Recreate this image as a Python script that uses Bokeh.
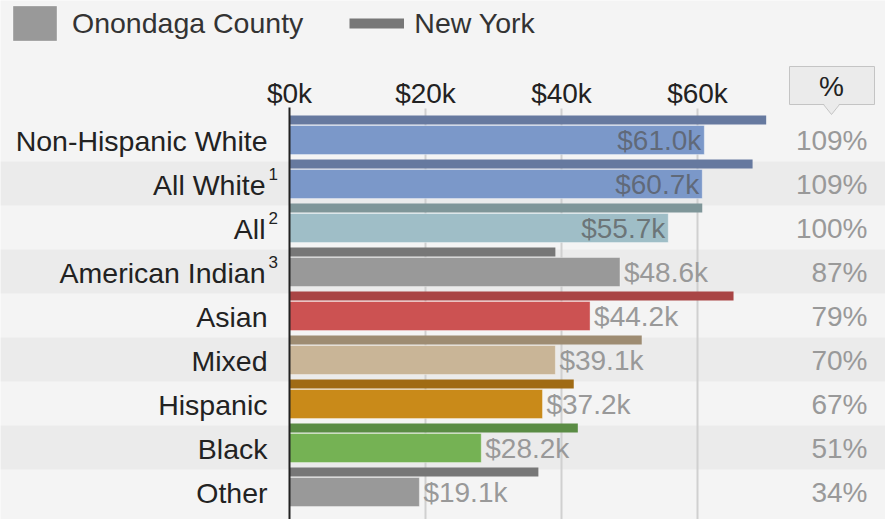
from bokeh.plotting import figure
from bokeh.models import Range1d, Legend, LegendItem
from bokeh.embed import file_html
from bokeh.resources import INLINE
from bokeh.core.properties import value

# ---------------- data ----------------
groups = ["Non-Hispanic White", "All White", "All", "American Indian", "Asian",
          "Mixed", "Hispanic", "Black", "Other"]
notes = ["", "1", "2", "3", "", "", "", "", ""]
county = [61.0, 60.7, 55.7, 48.6, 44.2, 39.1, 37.2, 28.2, 19.1]      # Onondaga County, $k
new_york = [70.1, 68.1, 60.7, 39.1, 65.3, 51.8, 41.8, 42.4, 36.6]    # New York, $k
percent = ["109%", "109%", "100%", "87%", "79%", "70%", "67%", "51%", "34%"]
ticks = [0, 20, 40, 60]
tick_labels = ["$0k", "$20k", "$40k", "$60k"]

county_colors = ["#7b98c9", "#7b98c9", "#9fbec7", "#999999", "#cc5252",
                 "#c9b597", "#c98a19", "#75b254", "#999999"]
ny_colors = ["#66799f", "#66799f", "#7f9699", "#777777", "#a94545",
             "#9e8c72", "#a06b14", "#5a8c44", "#777777"]

# ---------------- layout ----------------
W, H = 885, 519
X0_PX, PX_PER_K = 289, 6.8
ROW0, ROW_H = 117, 44
FONT = value("Liberation Sans")

p = figure(width=W, height=H,
           x_range=Range1d(-X0_PX / PX_PER_K, (W - X0_PX) / PX_PER_K),
           y_range=Range1d(H, 0),
           output_backend="svg", toolbar_location=None,
           x_axis_location=None, y_axis_location=None,
           min_border=0, min_border_left=0, min_border_right=0,
           min_border_top=0, min_border_bottom=0)
p.grid.visible = False
p.outline_line_color = None
p.background_fill_color = "#f4f4f4"
p.border_fill_color = "#f4f4f4"
p.extra_x_ranges = {"px": Range1d(0, W)}

n = len(groups)
row_top = [ROW0 + ROW_H * i for i in range(n)]
row_mid = [t + ROW_H / 2 for t in row_top]

# alternating bands
band_tops = [row_top[i] for i in range(n) if i % 2 == 1]
p.quad(left=0, right=W, top=band_tops, bottom=[t + ROW_H for t in band_tops],
       x_range_name="px", fill_color="#ebebeb", line_color=None)

# grid lines
p.segment(x0=ticks[1:], y0=108, x1=ticks[1:], y1=H, line_color="#d0d0d0", line_width=2)

# bars
ny_r = p.hbar(y=[t + 2.5 for t in row_top], height=9, left=0, right=new_york,
              fill_color=ny_colors, line_color=None)
county_r = p.hbar(y=[t + 22.5 for t in row_top], height=29, left=0, right=county,
                  fill_color=county_colors, line_color="white", line_alpha=0.35, line_width=1)

# axis line
p.segment(x0=[0], y0=[107], x1=[0], y1=[H], line_color="#222222", line_width=2)

# tick labels
p.text(x=ticks, y=93, text=tick_labels, text_align="center", text_baseline="middle",
       text_font=FONT, text_font_size="28px", text_color="#222222")

# row labels
p.text(x=0, y=[m + 1 for m in row_mid], text=groups,
       x_offset=[-24 if s else -22 for s in notes],
       text_align="right", text_baseline="middle",
       text_font=FONT, text_font_size="28.5px", text_color="#222222")
p.text(x=0, y=[m - 10 for m in row_mid], text=notes, x_offset=-21,
       text_align="left", text_baseline="middle",
       text_font=FONT, text_font_size="17px", text_color="#222222")

# value labels
inside = [i for i in range(n) if county[i] >= 50]
outside = [i for i in range(n) if county[i] < 50]
fmt = lambda v: f"${v:.1f}k"
p.text(x=[county[i] for i in inside], y=[row_mid[i] + 1 for i in inside],
       text=[fmt(county[i]) for i in inside], x_offset=-3,
       text_align="right", text_baseline="middle",
       text_font=FONT, text_font_size="28px", text_color="#555555", text_alpha=0.7)
p.text(x=[county[i] for i in outside], y=[row_mid[i] + 1 for i in outside],
       text=[fmt(county[i]) for i in outside], x_offset=4,
       text_align="left", text_baseline="middle",
       text_font=FONT, text_font_size="28px", text_color="#999999")

# percent column
p.text(x=867, y=[m + 1 for m in row_mid], text=percent, x_range_name="px",
       text_align="right", text_baseline="middle",
       text_font=FONT, text_font_size="28px", text_color="#999999")

# "%" header box with pointer
p.quad(left=789, right=874, top=66, bottom=104, x_range_name="px",
       fill_color="#ebebeb", line_color="#c4c4c4", line_width=1)
p.patch(x=[823, 831, 839], y=[103, 114, 103], x_range_name="px",
        fill_color="#ebebeb", line_color=None)
p.line(x=[823, 831, 839], y=[104, 114, 104], x_range_name="px",
       line_color="#c4c4c4", line_width=1)
p.text(x=[831], y=[86], text=["%"], x_range_name="px",
       text_align="center", text_baseline="middle",
       text_font=FONT, text_font_size="28px", text_color="#222222")

# legend (county swatch uses the grey "Other" bar; NY swatch is an off-screen line proxy)
ln = p.line(x=[-50, -49], y=[-10, -10], x_range_name="px",
            line_color="#777777", line_width=10)
legend = Legend(items=[LegendItem(label="Onondaga County", renderers=[county_r], index=n - 1),
                       LegendItem(label="New York", renderers=[ln])],
                orientation="horizontal", location=(7, 474),
                glyph_width=55, glyph_height=44, label_standoff=10, spacing=46,
                padding=0, margin=0, border_line_color=None,
                background_fill_alpha=0,
                label_text_font="Liberation Sans", label_text_font_size="28.5px",
                label_text_color="#333333")
p.add_layout(legend)

open("out.html", "w").write(file_html(p, INLINE))
